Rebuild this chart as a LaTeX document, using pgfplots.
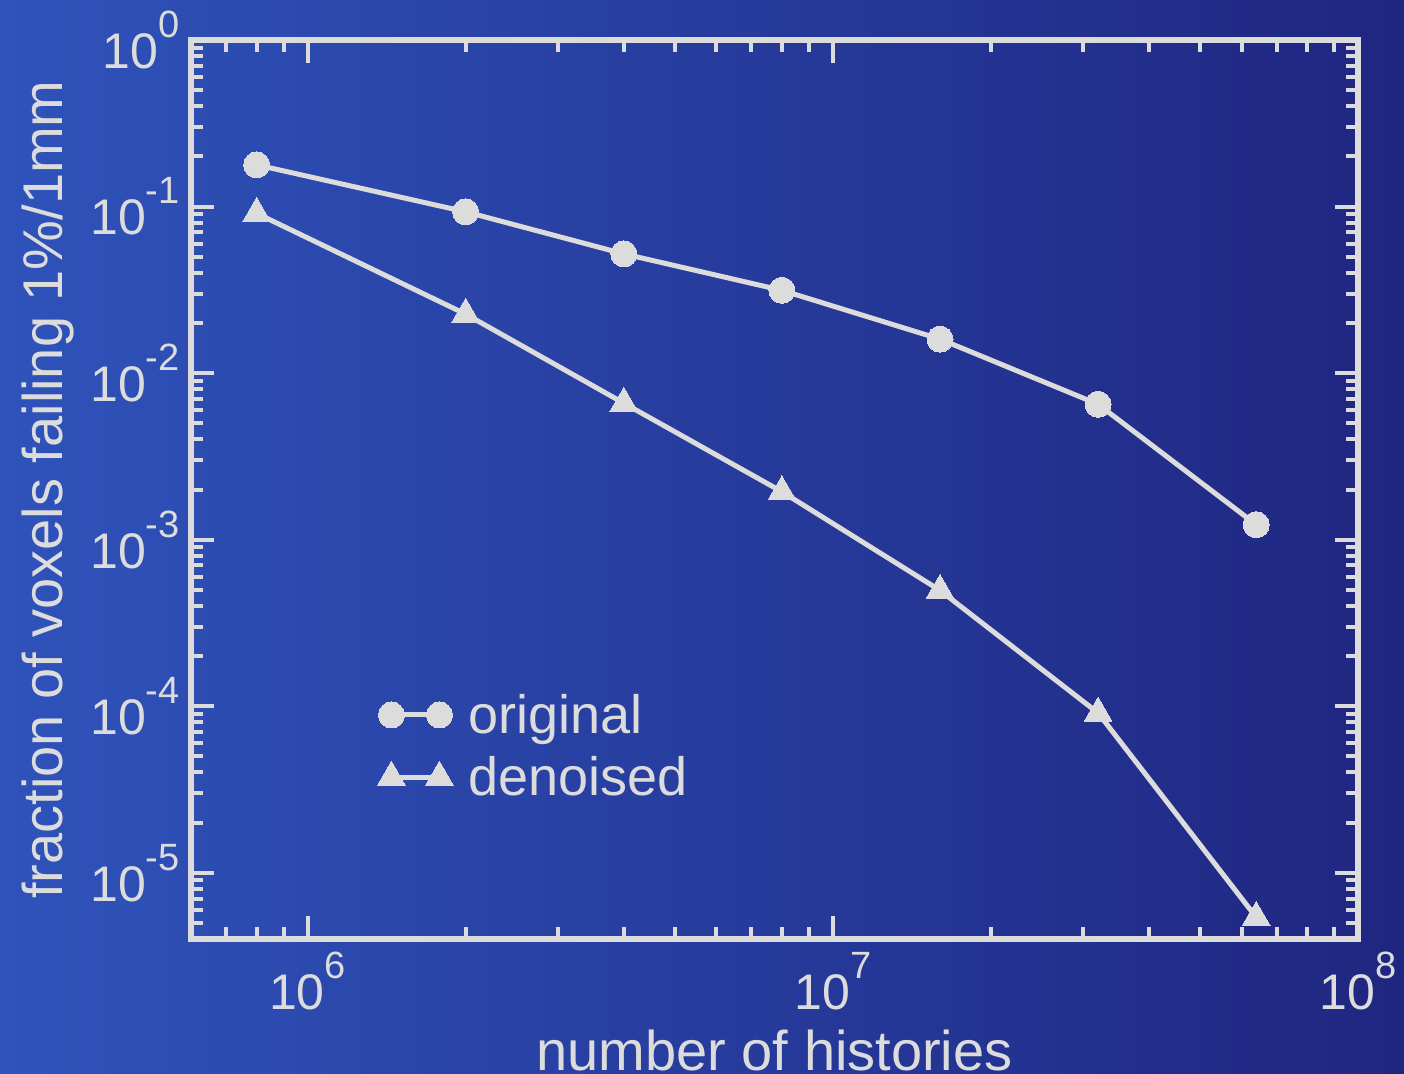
\documentclass[border=0pt]{standalone}
\usepackage{pgfplots}
\pgfplotsset{compat=1.18}
\usepackage{fontspec}
\setmainfont{Liberation Sans}
\definecolor{fg}{HTML}{DCDCDC}
\definecolor{bgl}{HTML}{2F53BB}
\definecolor{bgr}{HTML}{1F2680}
\newcommand{\tl}[1]{10\raisebox{0.62em}{\fontsize{19bp}{19bp}\selectfont #1}}
\begin{document}
\begin{tikzpicture}
\shade[left color=bgl, right color=bgr] (-95.5bp,-67.5bp) rectangle (606.5bp,469.5bp);
\begin{axis}[
  at={(0,0)}, anchor=south west,
  scale only axis, width=583.5bp, height=449.5bp,
  xmode=log, ymode=log,
  xmin=6e5, xmax=1e8, ymin=4e-6, ymax=1,
  clip=false,
  axis line style={fg, line width=2.8bp},
  tick style={fg, line width=2bp},
  major tick length=11.5bp, minor tick length=6bp,
  tick align=inside, tick pos=both,
  xtick={1e6,1e7,1e8}, xticklabels={\tl{6},\tl{7},\tl{8}},
  minor xtick={7e5,8e5,9e5,2e6,3e6,4e6,5e6,6e6,7e6,8e6,9e6,2e7,3e7,4e7,5e7,6e7,7e7,8e7,9e7},
  ytick={1e-5,1e-4,1e-3,1e-2,1e-1,1}, yticklabels={\tl{-5},\tl{-4},\tl{-3},\tl{-2},\tl{-1},\tl{0}},
  minor ytick={5e-6,6e-6,7e-6,8e-6,9e-6,2e-5,3e-5,4e-5,5e-5,6e-5,7e-5,8e-5,9e-5,2e-4,3e-4,4e-4,5e-4,6e-4,7e-4,8e-4,9e-4,2e-3,3e-3,4e-3,5e-3,6e-3,7e-3,8e-3,9e-3,2e-2,3e-2,4e-2,5e-2,6e-2,7e-2,8e-2,9e-2,0.2,0.3,0.4,0.5,0.6,0.7,0.8,0.9},
  ticklabel style={font=\fontsize{25bp}{30bp}\selectfont, text=fg},
  xticklabel style={anchor=north, inner sep=0pt, yshift=-6.5bp},
  yticklabel style={anchor=east, inner sep=0pt, xshift=-5.5bp},
  xlabel={number of histories},
  xlabel style={at={(axis description cs:0.5,-0.1457)}, anchor=base, font=\fontsize{28bp}{34bp}\selectfont, text=fg},
  ylabel={fraction of voxels failing 1\%/1mm},
  ylabel style={at={(axis description cs:-0.1105,0.5)}, anchor=base, font=\fontsize{28bp}{34bp}\selectfont, text=fg},
  legend style={at={(axis description cs:0.1595,0.2147)}, anchor=west, draw=none, fill=none, inner sep=0pt,
    font=\fontsize{27bp}{32bp}\selectfont, text=fg, column sep=7.5bp, row sep=10bp, nodes={inner sep=0pt}},
  legend cell align=left,
  legend image code/.code={\draw[#1] plot coordinates {(0bp,0bp) (24bp,0bp)};},
]
\addplot[fg, line width=2.5bp, mark=*, mark size=6.5bp, mark options={fill=fg, draw=fg, line width=0pt}]
  coordinates {(8e5,0.178) (2e6,0.093) (4e6,0.052) (8e6,0.0314) (1.6e7,0.016) (3.2e7,0.0065) (6.4e7,0.00123)};
\addlegendentry{original}
\addplot[fg, line width=2.5bp, mark=triangle*, mark size=8bp, mark options={fill=fg, draw=fg, line width=0pt}]
  coordinates {(8e5,0.091) (2e6,0.0226) (4e6,0.0066) (8e6,0.00194) (1.6e7,0.000496) (3.2e7,0.000091) (6.4e7,0.0000054)};
\addlegendentry{denoised}
\end{axis}
\pgfresetboundingbox
\path[use as bounding box] (-95.5bp,-67.5bp) rectangle (606.5bp,469.5bp);
\end{tikzpicture}
\end{document}
